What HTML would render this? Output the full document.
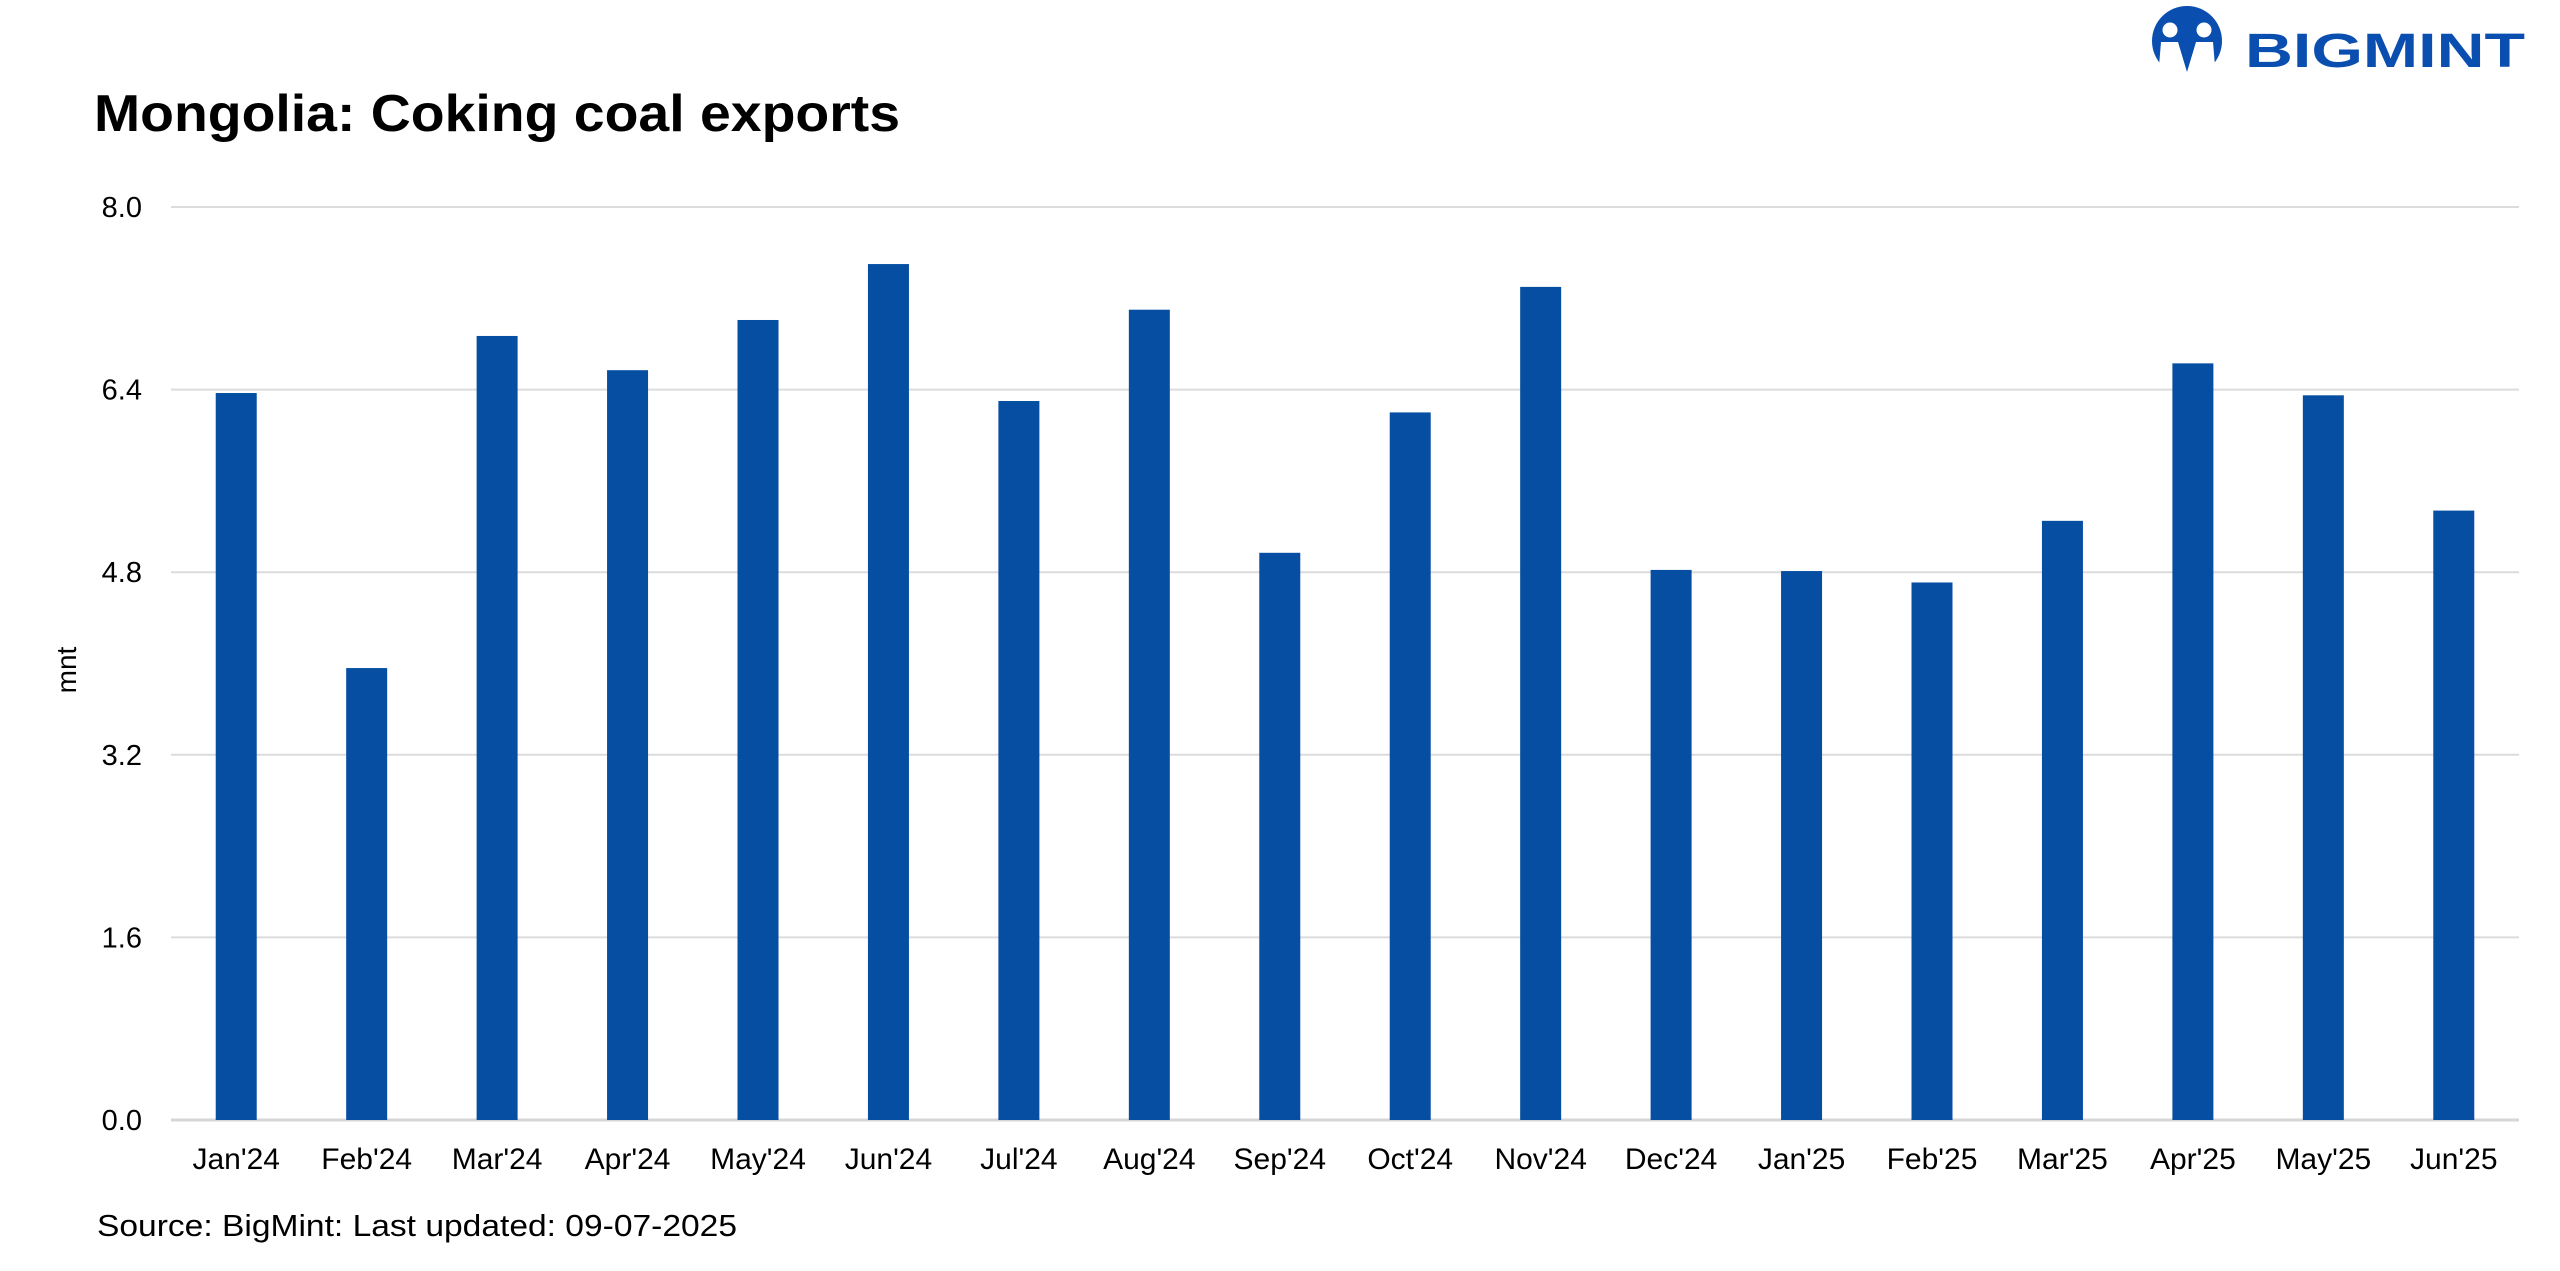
<!DOCTYPE html>
<html><head><meta charset="utf-8"><style>
html,body{margin:0;padding:0;background:#fff;}
svg{display:block;}
text{font-family:"Liberation Sans",sans-serif;}
</style></head><body>
<svg id="chart" width="2560" height="1271" viewBox="0 0 2560 1271" xmlns="http://www.w3.org/2000/svg">
<rect width="2560" height="1271" fill="#fff"/>
<text x="94" y="131" font-size="52" font-weight="bold" fill="#000" textLength="806" lengthAdjust="spacingAndGlyphs">Mongolia: Coking coal exports</text>
<g>
<circle cx="2187" cy="41" r="35" fill="#0a4fb0"/>
<circle cx="2170" cy="30" r="7.5" fill="#fff"/>
<circle cx="2204" cy="30" r="7.5" fill="#fff"/>
<path d="M2161 42 L2178 42 L2187 72 L2196 42 L2213 42 L2215 66 L2220 60 L2220 80 L2154 80 L2154 60 L2159 66 Z" fill="#fff"/>
<text x="2245" y="67" font-size="48" font-weight="bold" fill="#0a4fb0" textLength="280" lengthAdjust="spacingAndGlyphs">BIGMINT</text>
</g>
<g id="grid"></g>
<g id="bars"></g>
<g id="ylabels"></g>
<g id="xlabels"></g>
<text x="0" y="0" transform="translate(76,670) rotate(-90)" text-anchor="middle" font-size="28" fill="#000">mnt</text>
<text x="97" y="1236" font-size="31" fill="#000" textLength="640" lengthAdjust="spacingAndGlyphs">Source: BigMint: Last updated: 09-07-2025</text>
</svg>
<script>
const categories = ["Jan'24","Feb'24","Mar'24","Apr'24","May'24","Jun'24","Jul'24","Aug'24","Sep'24","Oct'24","Nov'24","Dec'24","Jan'25","Feb'25","Mar'25","Apr'25","May'25","Jun'25"];
const values = [6.37,3.96,6.87,6.57,7.01,7.50,6.30,7.10,4.97,6.20,7.30,4.82,4.81,4.71,5.25,6.63,6.35,5.34];
const yTicks = [0, 1.6, 3.2, 4.8, 6.4, 8.0];
const yTickLabels = ["0.0","1.6","3.2","4.8","6.4","8.0"];

const NS = "http://www.w3.org/2000/svg";
const plotL = 171, plotR = 2519, y0 = 1120, yTop = 207, yMax = 8;
const band = (plotR - plotL) / categories.length;
const barW = 41;
function yScale(v){ return y0 - (v / yMax) * (y0 - yTop); }
function xCenter(i){ return plotL + band * (i + 0.5); }

const grid = document.getElementById('grid');
const yl = document.getElementById('ylabels');
yTicks.forEach((t, i) => {
  const l = document.createElementNS(NS, 'line');
  l.setAttribute('x1', plotL); l.setAttribute('x2', plotR);
  l.setAttribute('y1', yScale(t)); l.setAttribute('y2', yScale(t));
  l.setAttribute('stroke', t === 0 ? '#d6d6d6' : '#dcdcdc');
  l.setAttribute('stroke-width', t === 0 ? 3 : 2);
  
  
  grid.appendChild(l);
  const tx = document.createElementNS(NS, 'text');
  tx.setAttribute('x', 142); tx.setAttribute('y', yScale(t) + 10);
  tx.setAttribute('text-anchor', 'end'); tx.setAttribute('font-size', '29');
  tx.textContent = yTickLabels[i];
  
  
  yl.appendChild(tx);
});

const bars = document.getElementById('bars');
const xl = document.getElementById('xlabels');
categories.forEach((c, i) => {
  const r = document.createElementNS(NS, 'rect');
  r.setAttribute('x', xCenter(i) - barW / 2);
  r.setAttribute('y', yScale(values[i]));
  r.setAttribute('width', barW);
  r.setAttribute('height', y0 - yScale(values[i]));
  r.setAttribute('fill', '#054ea2');
  
  
  bars.appendChild(r);
  const tx = document.createElementNS(NS, 'text');
  tx.setAttribute('x', xCenter(i)); tx.setAttribute('y', 1169);
  tx.setAttribute('text-anchor', 'middle'); tx.setAttribute('font-size', '30');
  tx.textContent = c;
  
  
  xl.appendChild(tx);
});
</script>
</body></html>
